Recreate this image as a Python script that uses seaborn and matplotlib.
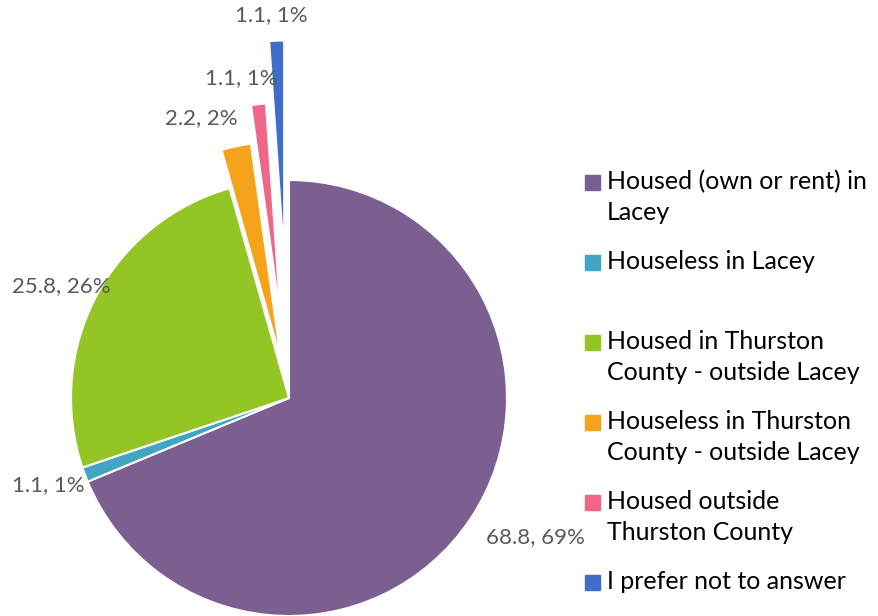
import numpy as np
import seaborn as sns
import matplotlib.pyplot as plt
from matplotlib.patches import Rectangle

# dados
categorias = [
    "Housed (own or rent) in\nLacey",
    "Houseless in Lacey",
    "Housed in Thurston\nCounty - outside Lacey",
    "Houseless in Thurston\nCounty - outside Lacey",
    "Housed outside\nThurston County",
    "I prefer not to answer",
]
valores = [68.8, 1.1, 25.8, 2.2, 1.1, 1.1]
cores = ["#7B5F91", "#42A5C3", "#93C524", "#F5A31A", "#EF6689", "#3F6DCB"]
destaque = [0, 0, 0, 0.18, 0.355, 0.64]  # fracao do raio

# posicao dos rotulos: distancia radial (em raios) e ajuste de angulo (graus)
dist_rotulo = [1.298, 1.175, 1.163, 1.344, 1.483, 1.759]
ajuste_ang = [4.2, -0.6, 1.6, 5.6, 2.6, 0.7]

sns.set_style("white")
plt.rcParams["font.family"] = ["Lato", "DejaVu Sans"]

W, H = 879, 616
fig = plt.figure(figsize=(W / 100, H / 100), dpi=100)
ax = fig.add_axes([0, 0, 1, 1])

cx, cy, r = 289, H - 398, 218
wedges, _ = ax.pie(
    valores, colors=cores, explode=[e * r for e in destaque], startangle=90,
    counterclock=False, center=(cx, cy), radius=r,
    wedgeprops=dict(edgecolor="white", linewidth=1.5),
)
ax.set_xlim(0, W)
ax.set_ylim(0, H)
ax.set_aspect("equal")
ax.axis("off")

total = sum(valores)
for w, v, d, a in zip(wedges, valores, dist_rotulo, ajuste_ang):
    theta = np.deg2rad((w.theta1 + w.theta2) / 2 + a)
    x = cx + d * r * np.cos(theta)
    y = cy + d * r * np.sin(theta)
    ax.text(x, y, f"{v:.1f}, {round(v / total * 100):.0f}%", ha="center",
            va="center", fontsize=16, color="#595959")

# legenda desenhada a mao para alinhar o marcador com a primeira linha
for i, (lab, c) in enumerate(zip(categorias, cores)):
    base = 189 + 80 * i
    ax.add_patch(Rectangle((585, H - base - 1), 15, 15, color=c, clip_on=False))
    for j, linha in enumerate(lab.split("\n")):
        ax.text(607, H - (base + 31.5 * j), linha, ha="left", va="baseline",
                fontsize=18, color="black")

fig.savefig("out.png", dpi=100)
